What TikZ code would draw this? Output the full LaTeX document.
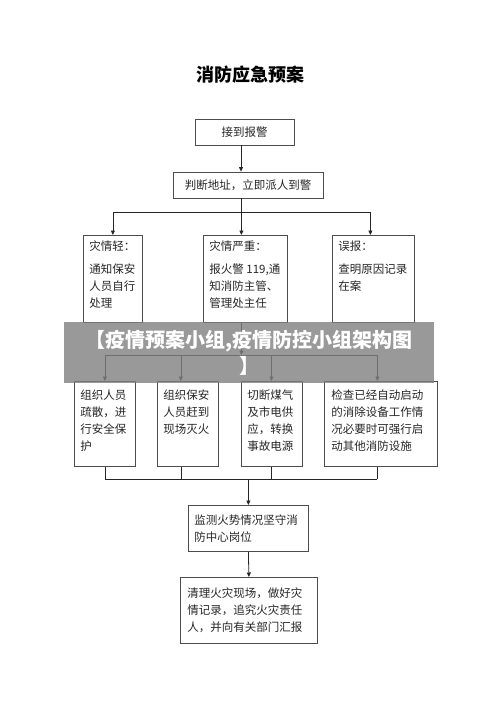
\documentclass[tikz,border=0pt]{standalone}
\usepackage{fontspec}
\setmainfont{Noto Sans CJK SC}
\usetikzlibrary{arrows.meta,positioning}
\newcommand{\boxtext}[3]{\parbox[t][#2][t]{#1}{#3}}

\tikzset{
  titlebox/.style={font=\bfseries\fontsize{18}{22}\selectfont},
  stepbox/.style={draw=black!70,line width=0.8pt,minimum height=26pt,inner sep=0pt,
    font=\fontsize{11.5}{17}\selectfont,text=black!85},
  infobox/.style={draw=black!70,line width=0.8pt,anchor=north west,inner xsep=6pt,inner ysep=#1,
    font=\fontsize{11.5}{17}\selectfont,text=black!85},
  infobox/.default=5pt,
  link/.style={draw=black!85,line width=0.8pt},
  banner/.style={fill={rgb,255:red,128;green,128;blue,128},fill opacity=0.8,text opacity=1,
    minimum width=370pt,minimum height=61pt,inner sep=0pt,text width=370pt,align=center,
    text=white,font=\bfseries\fontsize{20}{26}\selectfont},
  >={Triangle[length=4.5pt,width=4pt]}
}

\begin{document}
\begin{tikzpicture}[x=1pt,y=-1pt]
    \useasboundingbox (0,0) rectangle (500,707);
    \node[titlebox] (title) at (250,75) {消防应急预案};
    \node[stepbox,minimum width=99pt] (b1) at (244.5,132) {接到报警};
    \node[stepbox,minimum width=150pt] (b2) at (248,185) {判断地址，立即派人到警};
    % first row
    \node[infobox] (r1a) at (83,235) {\boxtext{47pt}{77pt}{灾情轻：\\[6pt]通知保安\\人员自行\\处理}};
    \node[infobox] (r1b) at (203,235) {\boxtext{72pt}{77pt}{灾情严重：\\[6pt]报火警~119,通\\知消防主管、\\管理处主任}};
    \node[infobox] (r1c) at (332,235) {\boxtext{70pt}{77pt}{误报：\\[6pt]查明原因记录\\在案}};
    % second row
    \node[infobox=8pt] (r2a) at (74,381) {\boxtext{49pt}{69pt}{组织人员\\疏散，进\\行安全保\\护}};
    \node[infobox=8pt] (r2b) at (157,381) {\boxtext{49pt}{69pt}{组织保安\\人员赶到\\现场灭火}};
    \node[infobox=8pt] (r2c) at (241,381) {\boxtext{49pt}{69pt}{切断煤气\\及市电供\\应，转换\\事故电源}};
    \node[infobox=8pt,inner xsep=7pt] (r2d) at (324,381) {\boxtext{99pt}{69pt}{检查已经自动启动\\的消除设备工作情\\况必要时可强行启\\动其他消防设施}};
    \node[infobox=9pt] (b3) at (188,505) {\boxtext{108pt}{28pt}{监测火势情况坚守消\\防中心岗位}};
    \node[infobox=10pt,inner xsep=7pt] (b4) at (180,577) {\boxtext{123pt}{46pt}{清理火灾现场，做好灾\\情记录，追究火灾责任\\人，并向有关部门汇报}};

    \coordinate (spine) at (241,0);
    \coordinate (bus1) at (0,212);
    \coordinate (bus2) at (0,355);
    \coordinate (bus3) at (0,479);
    \draw[link,->] (b1.south -| spine) -- (b2.north -| spine);
    \draw[link] (b2.south -| spine) -- (spine |- bus1);
    \draw[link] (r1a.north |- bus1) -- ([xshift=-3pt]r1c.north |- bus1);
    \foreach \n/\s in {r1a/0,r1b/-4,r1c/-3}
      \draw[link,->] ([xshift=\s pt]\n.north |- bus1) -- ([xshift=\s pt]\n.north);
    \draw[link,->] ([xshift=-4pt]r1b.south) -- ([xshift=-4pt]r1b.south |- bus2);
    \draw[link] (r2a.north |- bus2) -- ([xshift=-3.5pt]r2d.north |- bus2);
    \draw[link] (r2a.south |- bus3) -- ([xshift=-3.5pt]r2d.south |- bus3);
    \foreach \n/\s in {r2a/0,r2b/-7,r2c/-0.5,r2d/-3.5}{
      \draw[link,->] ([xshift=\s pt]\n.north |- bus2) -- ([xshift=\s pt]\n.north);
      \draw[link] ([xshift=\s pt]\n.south) -- ([xshift=\s pt]\n.south |- bus3);
    }
    \draw[link,->] (b3.north |- bus3) -- (b3.north);
    \draw[link,->] (b3.south) -- (b4.north);

    \node[banner] (wm) at (249,352.5) {【疫情预案小组,疫情防控小组架构图\\】};
\end{tikzpicture}
\end{document}
